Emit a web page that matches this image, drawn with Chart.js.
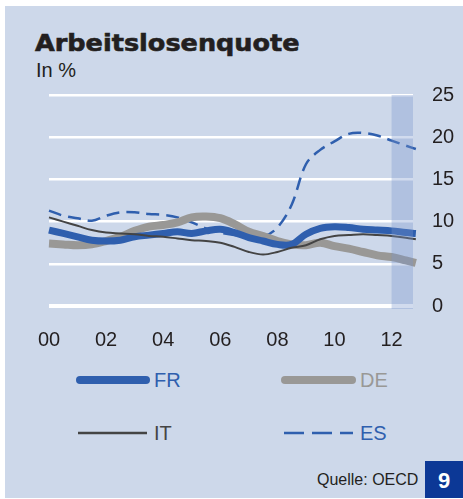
<!DOCTYPE html>
<html>
<head>
<meta charset="utf-8">
<script src="https://cdn.jsdelivr.net/npm/chart.js@4/dist/chart.umd.min.js"></script>
<style>
  html, body { margin: 0; padding: 0; background: #fff; }
  body { width: 463px; height: 499px; position: relative; overflow: hidden; font-family: "Liberation Sans", Arial, sans-serif; }
  #panel { position: absolute; left: 5px; top: 6px; width: 458px; height: 492px; background: #cdd8ea; }
  #title { position: absolute; left: 35px; top: 30px; font-family: "DejaVu Sans", sans-serif; font-weight: bold; font-size: 23px; color: #231f20;
           transform: scaleX(1.11); transform-origin: left top; -webkit-text-stroke: 0.6px #231f20; white-space: nowrap; }
  #unit { position: absolute; left: 36px; top: 59px; font-size: 20px; color: #231f20; }
  .leg { position: absolute; font-size: 20px; line-height: 24px; }
  #source { position: absolute; left: 317px; top: 471px; font-size: 16px; color: #231f20; }
  #num { position: absolute; left: 425px; top: 461px; width: 38px; height: 37px; background: #0c3896; color: #fff;
         font-weight: bold; font-size: 22px; text-align: center; line-height: 40px; }
  canvas { position: absolute; left: 0; top: 0; }
</style>
</head>
<body>
<div id="panel"></div>
<div id="title">Arbeitslosenquote</div>
<div id="unit">In %</div>

<svg width="463" height="499" style="position:absolute;left:0;top:0">
  <line x1="80" y1="380" x2="146" y2="380" stroke="#2f5fae" stroke-width="8" stroke-linecap="round"/>
  <line x1="285" y1="380" x2="352" y2="380" stroke="#999896" stroke-width="8" stroke-linecap="round"/>
  <line x1="78" y1="433" x2="147" y2="433" stroke="#444" stroke-width="2.5"/>
  <line x1="284" y1="433" x2="353" y2="433" stroke="#2f5fae" stroke-width="2.5" stroke-dasharray="20 8"/>
</svg>
<div class="leg" style="left:154px;top:368px;color:#2f5fae">FR</div>
<div class="leg" style="left:360px;top:368px;color:#999896">DE</div>
<div class="leg" style="left:154px;top:421px;color:#444">IT</div>
<div class="leg" style="left:360px;top:421px;color:#2f5fae">ES</div>

<div id="source">Quelle: OECD</div>
<div id="num">9</div>

<canvas id="chart" width="463" height="499"></canvas>

<script>
// Jahre (Halbjahresschritte)
var years = [2000, 2000.5, 2001, 2001.5, 2002, 2002.5, 2003, 2003.5, 2004, 2004.5,
             2005, 2005.5, 2006, 2006.5, 2007, 2007.5, 2008, 2008.5, 2009, 2009.5,
             2010, 2010.5, 2011, 2011.5, 2012, 2012.5, 2012.85];

var fr = [9.0, 8.6, 8.2, 7.8, 7.7, 7.8, 8.2, 8.4, 8.6, 8.8,
          8.6, 8.9, 9.1, 8.7, 8.1, 7.7, 7.3, 7.3, 8.5, 9.2,
          9.4, 9.3, 9.1, 9.0, 8.9, 8.7, 8.6];
var de = [7.4, 7.3, 7.2, 7.3, 7.7, 8.2, 8.9, 9.4, 9.6, 9.9,
          10.5, 10.6, 10.4, 9.7, 8.8, 8.3, 7.7, 7.3, 7.2, 7.5,
          7.1, 6.8, 6.4, 6.0, 5.8, 5.4, 5.1];
var it = [10.5, 10.0, 9.5, 9.0, 8.7, 8.6, 8.5, 8.3, 8.2, 8.0,
          7.8, 7.7, 7.5, 7.0, 6.4, 6.1, 6.4, 6.9, 7.2, 7.9,
          8.3, 8.4, 8.5, 8.4, 8.3, 8.1, 7.9];
var es = [11.3, 10.7, 10.4, 10.1, 10.7, 11.1, 11.1, 10.9, 10.8, 10.5,
          9.9, 9.2, 8.7, 8.4, 8.2, 8.2, 9.3, 12.0, 16.8, 18.5,
          19.5, 20.4, 20.5, 20.2, 19.6, 19.0, 18.6];

var xTicks = [2000, 2002, 2004, 2006, 2008, 2010, 2012];
var xTickLabels = ["00", "02", "04", "06", "08", "10", "12"];
var xMin = 2000;
var xMax = 2012.75;
var bandStart = 2012;   // Prognose-Bereich

function toPoints(vals) {
    var pts = [];
    for (var i = 0; i < vals.length; ++i) {
        pts.push({ x: years[i], y: vals[i] });
    }
    return pts;
}

var bandPlugin = {
    id: 'band',
    afterDatasetsDraw: function (chart) {
        var ctx = chart.ctx;
        var xs = chart.scales.x;
        var area = chart.chartArea;
        var x0 = xs.getPixelForValue(bandStart);
        var x1 = xs.getPixelForValue(xMax);
        ctx.save();
        ctx.fillStyle = 'rgba(120,150,205,0.34)';
        ctx.fillRect(x0, area.top, x1 - x0, area.bottom - area.top + 3);
        ctx.restore();
    }
};

var ctx = document.getElementById("chart");
var chart = new Chart(ctx, {
    type: 'line',
    data: {
        datasets: [{
            label: 'IT',
            data: toPoints(it),
            borderColor: '#444444',
            borderWidth: 2,
            order: 0
        }, {
            label: 'FR',
            data: toPoints(fr),
            borderColor: '#2f5fae',
            borderWidth: 7,
            order: 1
        }, {
            label: 'DE',
            data: toPoints(de),
            borderColor: '#999896',
            borderWidth: 8,
            order: 2
        }, {
            label: 'ES',
            data: toPoints(es),
            borderColor: '#2f5fae',
            borderWidth: 2.5,
            borderDash: [13, 7],
            order: 3
        }]
    },
    options: {
        responsive: false,
        animation: false,
        devicePixelRatio: 1,
        clip: false,
        elements: {
            point: { radius: 0 },
            line: { tension: 0.35, borderCapStyle: 'butt', fill: false }
        },
        layout: { padding: { left: 49, top: 95, right: 0, bottom: 153 } },
        plugins: {
            legend: { display: false },
            tooltip: { enabled: false }
        },
        scales: {
            x: {
                type: 'linear',
                min: xMin,
                max: xMax,
                afterBuildTicks: function (scale) {
                    scale.ticks = xTicks.map(function (v) { return { value: v }; });
                },
                afterFit: function (scale) { scale.height = 40; },
                grid: { display: false },
                border: { display: false },
                ticks: {
                    padding: 14,
                    maxRotation: 0,
                    color: '#231f20',
                    font: { family: 'Liberation Sans', size: 20 },
                    callback: function (value) {
                        var i = xTicks.indexOf(value);
                        return i >= 0 ? xTickLabels[i] : '';
                    }
                }
            },
            y: {
                position: 'right',
                min: 0,
                max: 25,
                afterFit: function (scale) { scale.width = 50; },
                grid: {
                    color: '#ffffff',
                    drawTicks: false,
                    lineWidth: function (c) { return c.tick && c.tick.value === 0 ? 4 : 2.5; }
                },
                border: { display: false },
                ticks: {
                    stepSize: 5,
                    padding: 19,
                    color: '#231f20',
                    font: { family: 'Liberation Sans', size: 20 }
                }
            }
        }
    },
    plugins: [bandPlugin]
});
</script>
</body>
</html>
